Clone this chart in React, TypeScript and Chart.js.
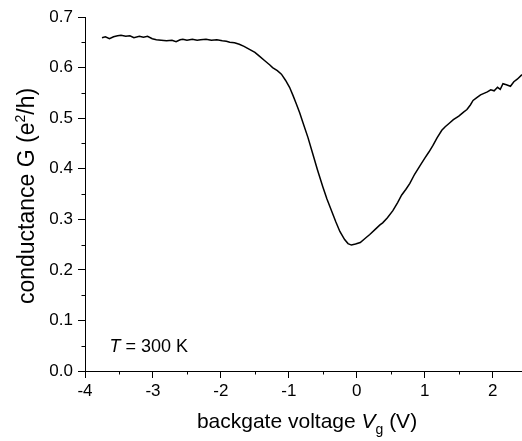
import React, { useEffect, useRef } from "react";
import { Chart, registerables } from "chart.js";

Chart.register(...registerables);

const vg = [
  -3.75, -3.70, -3.64, -3.58, -3.52, -3.47, -3.40, -3.34, -3.28, -3.20,
  -3.14, -3.08, -3.01, -2.95, -2.88, -2.80, -2.72, -2.66, -2.60, -2.56,
  -2.50, -2.42, -2.35, -2.30, -2.22, -2.14, -2.06, -1.98, -1.92, -1.87,
  -1.80, -1.73, -1.66, -1.58, -1.50, -1.43, -1.35, -1.28, -1.24, -1.17,
  -1.11, -1.05, -0.99, -0.94, -0.89, -0.84, -0.80, -0.72, -0.65, -0.58,
  -0.50, -0.44, -0.37, -0.31, -0.25, -0.18, -0.13, -0.08, -0.02, 0.05,
  0.12, 0.19, 0.27, 0.34, 0.38, 0.45, 0.53, 0.60, 0.66, 0.72,
  0.78, 0.85, 0.93, 1.00, 1.06, 1.12, 1.18, 1.25, 1.30, 1.36,
  1.42, 1.50, 1.57, 1.62, 1.67, 1.71, 1.76, 1.82, 1.87, 1.92,
  1.97, 2.02, 2.07, 2.11, 2.15, 2.20, 2.26, 2.31, 2.36, 2.43,
];

const conductance = [
  0.659, 0.661, 0.657, 0.661, 0.663, 0.664, 0.662, 0.663, 0.659, 0.662,
  0.660, 0.662, 0.657, 0.655, 0.654, 0.653, 0.654, 0.651, 0.655, 0.656,
  0.654, 0.656, 0.654, 0.655, 0.656, 0.654, 0.655, 0.653, 0.652, 0.650,
  0.649, 0.646, 0.642, 0.636, 0.630, 0.622, 0.613, 0.605, 0.600, 0.594,
  0.587, 0.575, 0.561, 0.545, 0.528, 0.510, 0.494, 0.462, 0.430, 0.398,
  0.364, 0.340, 0.316, 0.295, 0.276, 0.260, 0.252, 0.249, 0.251, 0.254,
  0.262, 0.270, 0.280, 0.289, 0.293, 0.303, 0.317, 0.333, 0.348, 0.359,
  0.371, 0.389, 0.406, 0.421, 0.433, 0.446, 0.461, 0.476, 0.483, 0.490,
  0.497, 0.504, 0.512, 0.517, 0.526, 0.535, 0.540, 0.546, 0.549, 0.552,
  0.556, 0.554, 0.561, 0.557, 0.568, 0.566, 0.563, 0.572, 0.577, 0.586,
];

const xMin = -4;
const xMax = 2.43;
const yMin = 0;
const yMax = 0.7;
const xMajorTicks = [-4, -3, -2, -1, 0, 1, 2];
const xMinorTicks = [-3.5, -2.5, -1.5, -0.5, 0.5, 1.5];
const yMinorTicks = [0.05, 0.15, 0.25, 0.35, 0.45, 0.55, 0.65];
const annotation = { x: -3.64, y: 0.038, label: "300 K" };

const FONT = "'Liberation Sans', Arial, sans-serif";

const customDraw = {
  id: "customDraw",
  afterDraw(chart: any) {
    const ctx = chart.ctx as CanvasRenderingContext2D;
    const xs = chart.scales.x;
    const ys = chart.scales.y;
    const area = chart.chartArea;
    ctx.save();
    ctx.strokeStyle = "#000";
    ctx.lineWidth = 1;
    ctx.beginPath();
    for (const v of yMinorTicks) {
      const py = Math.round(ys.getPixelForValue(v)) + 0.5;
      ctx.moveTo(area.left - 3.5, py);
      ctx.lineTo(area.left, py);
    }
    for (const v of xMinorTicks) {
      const px = Math.round(xs.getPixelForValue(v)) + 0.5;
      ctx.moveTo(px, area.bottom);
      ctx.lineTo(px, area.bottom + 3.5);
    }
    ctx.stroke();

    ctx.fillStyle = "#000";
    ctx.textBaseline = "alphabetic";
    ctx.textAlign = "left";

    // x title
    const parts: [string, string, number][] = [
      ["backgate voltage ", `21px ${FONT}`, 0],
      ["V", `italic 21px ${FONT}`, 0],
      ["g", `14px ${FONT}`, 6],
      [" (V)", `21px ${FONT}`, 0],
    ];
    let total = 0;
    for (const p of parts) {
      ctx.font = p[1];
      total += ctx.measureText(p[0]).width;
    }
    let x = 307 - total / 2;
    const baseX = 428;
    for (const p of parts) {
      ctx.font = p[1];
      ctx.fillText(p[0], x, baseX + p[2]);
      x += ctx.measureText(p[0]).width;
    }

    // y title
    const yparts: [string, string, number][] = [
      ["conductance G (e", `23px ${FONT}`, 0],
      ["2", `14px ${FONT}`, -9],
      ["/h)", `23px ${FONT}`, 0],
    ];
    let ytotal = 0;
    for (const p of yparts) {
      ctx.font = p[1];
      ytotal += ctx.measureText(p[0]).width;
    }
    ctx.save();
    ctx.translate(34, 196);
    ctx.rotate(-Math.PI / 2);
    let yx = -ytotal / 2;
    for (const p of yparts) {
      ctx.font = p[1];
      ctx.fillText(p[0], yx, p[2]);
      yx += ctx.measureText(p[0]).width;
    }
    ctx.restore();

    // annotation
    const ax = xs.getPixelForValue(annotation.x);
    const ay = ys.getPixelForValue(annotation.y);
    ctx.font = `italic 18px ${FONT}`;
    ctx.fillText("T", ax, ay);
    const tw = ctx.measureText("T").width;
    ctx.font = `18px ${FONT}`;
    ctx.fillText(" = " + annotation.label, ax + tw, ay);
    ctx.restore();
  },
};

export default function App() {
  const ref = useRef<HTMLCanvasElement | null>(null);
  useEffect(() => {
    if (!ref.current) return;
    const chart = new Chart(ref.current, {
      type: "line",
      data: {
        datasets: [
          {
            data: vg.map((v, i) => ({ x: v, y: conductance[i] })),
            borderColor: "#000",
            borderWidth: 1.5,
            pointRadius: 0,
            tension: 0,
            fill: false,
          },
        ],
      },
      options: {
        animation: false,
        responsive: false,
        devicePixelRatio: 1,
        layout: { padding: { top: 17, right: 0, left: 0, bottom: 0 } },
        plugins: {
          legend: { display: false },
          tooltip: { enabled: false },
          title: { display: false },
        },
        scales: {
          x: {
            type: "linear",
            min: xMin,
            max: xMax,
            ticks: {
              color: "#000",
              font: { family: FONT, size: 17 },
              padding: 3,
              maxRotation: 0,
              autoSkip: false,
              callback: (v: any) => String(Math.round(Number(v))),
            },
            afterBuildTicks: (s: any) => {
              s.ticks = xMajorTicks.map((v) => ({ value: v }));
            },
            afterFit: (s: any) => {
              s.height = 70;
            },
            grid: { drawOnChartArea: false, drawTicks: true, tickLength: 7, color: "#000" },
            border: { display: true, color: "#000", width: 1 },
          },
          y: {
            type: "linear",
            min: yMin,
            max: yMax,
            ticks: {
              stepSize: 0.1,
              color: "#000",
              font: { family: FONT, size: 17 },
              padding: 5,
              callback: (v: any) => Number(v).toFixed(1),
            },
            afterFit: (s: any) => {
              s.width = 85;
            },
            grid: { drawOnChartArea: false, drawTicks: true, tickLength: 7, color: "#000" },
            border: { display: true, color: "#000", width: 1 },
          },
        },
      },
      plugins: [customDraw],
    } as any);
    return () => chart.destroy();
  }, []);
  return (
    <div style={{ position: "absolute", left: 0, top: 0, width: 522, height: 441, background: "#fff" }}>
      <canvas ref={ref} width={522} height={441} />
    </div>
  );
}
